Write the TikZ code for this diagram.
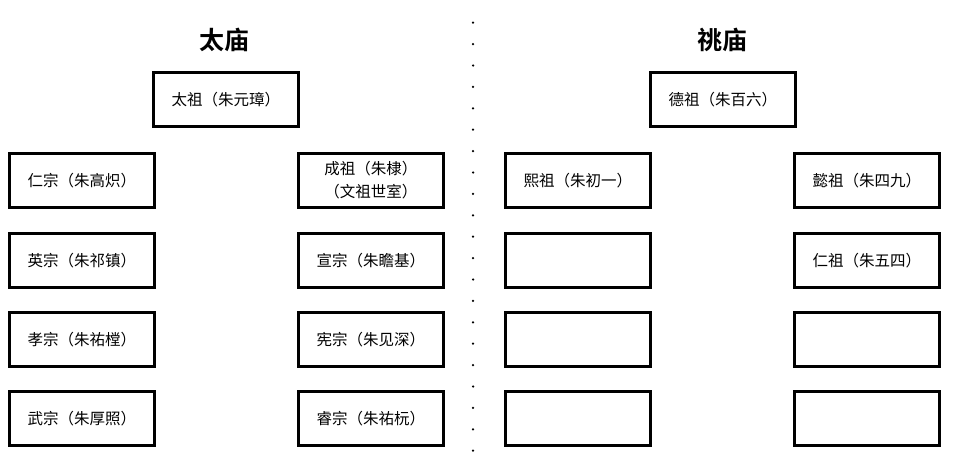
\documentclass[tikz,border=0pt]{standalone}
\usepackage{fontspec}
\newfontfamily\cjk{Noto Sans CJK SC}
\newfontfamily\cjkbold{Noto Sans CJK SC Bold}
\begin{document}
\begin{tikzpicture}[x=1pt,y=-1pt,
  hall/.style={draw=black,line width=2.7pt,minimum width=145pt,minimum height=54pt,inner sep=0pt,font=\cjk\fontsize{15.5}{23.5}\selectfont,align=center,anchor=north west},
  title/.style={font=\cjkbold\fontsize{25}{28}\selectfont},
  dot/.style={fill=black,circle,inner sep=0pt,minimum size=2.5pt}]
\useasboundingbox (0,0) rectangle (960,474);
\node[title] (t1) at (224,40) {太庙};
\node[title] (t2) at (722,40) {祧庙};
% left temple
\node[hall] (taizu) at (152,71) {太祖（朱元璋）};
\node[hall] (renzong) at (8,152) {仁宗（朱高炽）};
\node[hall] (chengzu) at (297,152) {成祖（朱棣）\\（文祖世室）};
\node[hall] (yingzong) at (8,232) {英宗（朱祁镇）};
\node[hall] (xuanzong) at (297,232) {宣宗（朱瞻基）};
\node[hall] (xiaozong) at (8,311) {孝宗（朱祐樘）};
\node[hall] (xianzong) at (297,311) {宪宗（朱见深）};
\node[hall] (wuzong) at (8,390) {武宗（朱厚照）};
\node[hall] (ruizong) at (297,390) {睿宗（朱祐杬）};
% right temple
\node[hall] (dezu) at (649,71) {德祖（朱百六）};
\node[hall] (xizu) at (504,152) {熙祖（朱初一）};
\node[hall] (yizu) at (793,152) {懿祖（朱四九）};
\node[hall] (e1) at (504,232) {};
\node[hall] (renzu) at (793,232) {仁祖（朱五四）};
\node[hall] (e2) at (504,311) {};
\node[hall] (e3) at (793,311) {};
\node[hall] (e4) at (504,390) {};
\node[hall] (e5) at (793,390) {};
% dotted divider
\foreach \i in {0,...,20} {
  \node[dot] (d\i) at (473,{22.7+\i*21.4}) {};
}
\end{tikzpicture}
\end{document}
